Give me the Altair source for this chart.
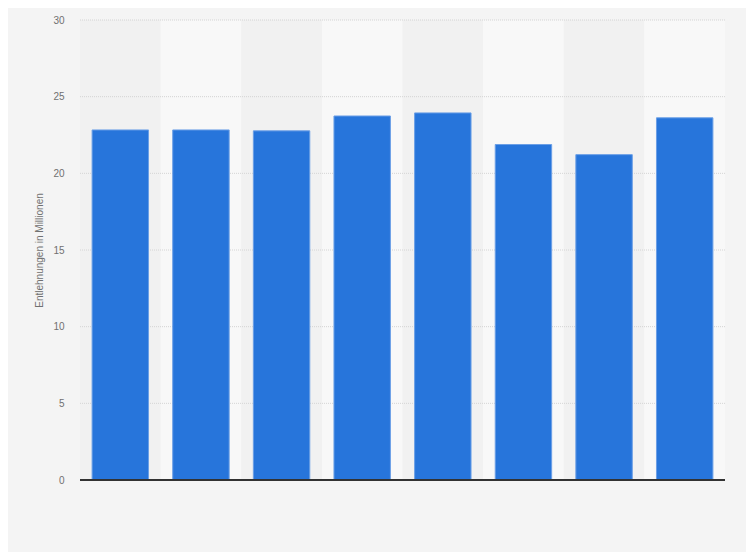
import altair as alt
import pandas as pd

categories = ["2012", "2013", "2014", "2015", "2016", "2017", "2018", "2019"]
values = [22.83, 22.83, 22.77, 23.74, 23.94, 21.88, 21.22, 23.62]
band_parity = [0, 1, 0, 1, 0, 1, 0, 1]
grid_values = [5, 10, 15, 20, 25, 30]
tick_values = [0, 5, 10, 15, 20, 25, 30]

df = pd.DataFrame({"cat": categories, "value": values, "parity": band_parity})
grid_df = pd.DataFrame({"value": grid_values})

x_enc = alt.X("cat:N", sort=categories,
              scale=alt.Scale(paddingInner=0.3, paddingOuter=0.15),
              axis=alt.Axis(labels=False, ticks=False, title=None, domain=False))

y_scale = alt.Scale(domain=[0, 30])
y_axis = alt.Axis(values=tick_values, title="Entlehnungen in Millionen",
                  titleFont="Liberation Sans", titleFontSize=10, titleFontWeight="normal", titleColor="#707070",
                  titlePadding=8,
                  labelFont="Liberation Sans", labelFontSize=10, labelColor="#707070", labelPadding=16,
                  ticks=False, domain=False, grid=False)

bands = alt.Chart(df).mark_bar(width={"band": 1 / 0.7}, strokeWidth=0).encode(
    x=x_enc,
    y=alt.value(0),
    y2=alt.value(460),
    color=alt.Color("parity:N", scale=alt.Scale(domain=[0, 1], range=["#f1f1f1", "#f8f8f8"]), legend=None),
)

grid = alt.Chart(grid_df).mark_rule(color="#d4d4d4", strokeDash=[1, 1], strokeWidth=1).encode(
    y=alt.Y("value:Q", scale=y_scale, axis=y_axis),
    x=alt.value(0), x2=alt.value(645),
)

bars = alt.Chart(df).mark_bar(color="#2775db", stroke="#6b9fe6", strokeWidth=1).encode(
    x=x_enc,
    y=alt.Y("value:Q", scale=y_scale, axis=y_axis),
)

zero = alt.Chart(df).mark_rule(color="#333333", strokeWidth=1.5).encode(
    x=alt.value(0), x2=alt.value(645), y=alt.value(460)
)

chart = alt.layer(bands, grid, bars, zero).properties(
    width=645, height=460,
    background="#f4f4f4",
    padding={"left": 72, "top": 12, "right": 21, "bottom": 72},
    autosize=alt.AutoSizeParams(type="none"),
).configure_view(stroke=None, fill="#f4f4f4")

chart.save("out.html", embed_options={"renderer": "svg", "actions": False})
